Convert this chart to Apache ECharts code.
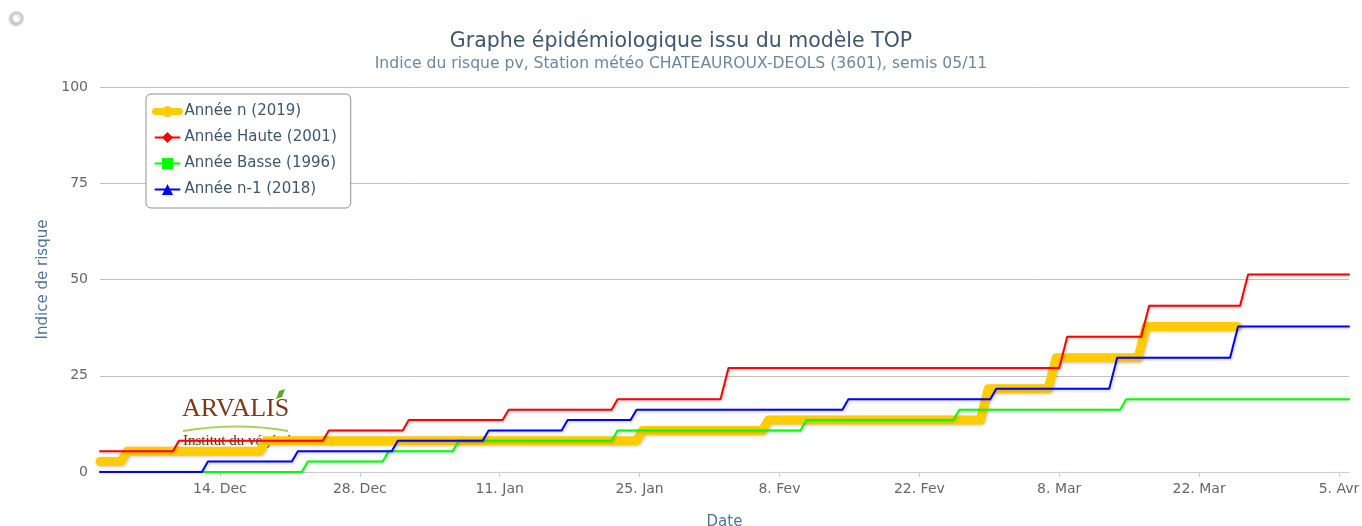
<!DOCTYPE html>
<html>
<head>
<meta charset="utf-8">
<script src="https://cdn.jsdelivr.net/npm/echarts@6/dist/echarts.min.js"></script>
<style>
html,body{margin:0;padding:0;background:#fff;}
#chart{width:1362px;height:526px;}
</style>
</head>
<body>
<div id="chart"></div>
<script>
// x values are day indexes: day 0 = 1 Dec, day 31 = 1 Jan, day 62 = 1 Feb, day 90 = 1 Mar, day 121 = 1 Apr
var tickDays = [13, 27, 41, 55, 69, 83, 97, 111, 125];
var tickLabels = ['14. Dec', '28. Dec', '11. Jan', '25. Jan', '8. Fev', '22. Fev', '8. Mar', '22. Mar', '5. Avr'];
var yTicks = [0, 25, 50, 75, 100];

var seriesNames = ['Année n (2019)', 'Année Haute (2001)', 'Année Basse (1996)', 'Année n-1 (2018)'];

var anneeN2019 = [[1,2.7],[3.1,2.7],[3.7,5.4],[17.0,5.4],[17.6,8.1],[54.7,8.1],[55.3,10.8],[67.3,10.8],[67.9,13.5],[89.1,13.5],[89.9,21.6],[95.9,21.6],[96.7,29.7],[104.9,29.7],[105.7,37.8],[114.8,37.8]];
var anneeHaute2001 = [[1,5.4],[8.3,5.4],[8.9,8.1],[23.3,8.1],[23.9,10.8],[31.3,10.8],[31.9,13.5],[41.3,13.5],[41.9,16.2],[52.2,16.2],[52.8,18.9],[63.1,18.9],[63.9,27.0],[97.0,27.0],[97.8,35.1],[105.2,35.1],[106.0,43.2],[115.1,43.2],[115.9,51.3],[126,51.3]];
var anneeBasse1996 = [[1,0],[21.2,0],[21.8,2.7],[29.3,2.7],[29.9,5.4],[36.3,5.4],[36.9,8.1],[52.2,8.1],[52.8,10.8],[71.1,10.8],[71.7,13.5],[86.4,13.5],[87.0,16.2],[103.1,16.2],[103.7,18.9],[126,18.9]];
var anneeN1_2018 = [[1,0],[11.2,0],[11.8,2.7],[20.2,2.7],[20.8,5.4],[30.2,5.4],[30.8,8.1],[39.3,8.1],[39.9,10.8],[47.2,10.8],[47.8,13.5],[54.1,13.5],[54.7,16.2],[75.3,16.2],[75.9,18.9],[90.1,18.9],[90.7,21.6],[102.0,21.6],[102.8,29.7],[114.1,29.7],[114.9,37.8],[126,37.8]];

var FONT = 'DejaVu Sans';
var shadow = {shadowColor:'rgba(0,0,0,0.22)', shadowBlur:3, shadowOffsetX:1, shadowOffsetY:1};

function lineSeries(name, data, color, width, symbol){
  return {
    name: name, type: 'line', data: data,
    symbol: symbol, symbolSize: 9, showSymbol: false,
    itemStyle: {color: color},
    lineStyle: Object.assign({color: color, width: width, cap: 'round', join: 'round'}, shadow),
    emphasis: {disabled: true},
    animation: false
  };
}

var chart = echarts.init(document.getElementById('chart'), null, {renderer: 'canvas'});
chart.setOption({
  backgroundColor: '#fff',
  animation: false,
  title: [
    {text: 'Graphe épidémiologique issu du modèle TOP', left: 'center', top: 26,
     textStyle: {fontFamily: FONT, fontSize: 20.5, fontWeight: 'normal', color: '#3E576F'}},
    {text: 'Indice du risque pv, Station météo CHATEAUROUX-DEOLS (3601), semis 05/11', left: 'center', top: 51,
     textStyle: {fontFamily: FONT, fontSize: 15.6, fontWeight: 'normal', color: '#6D869F'}}
  ],
  legend: {
    orient: 'vertical', left: 146, top: 94,
    padding: [10, 14, 11, 6],
    backgroundColor: '#fff',
    borderColor: '#909090', borderWidth: 1, borderRadius: 5,
    itemWidth: 24, itemHeight: 14, itemGap: 11,
    textStyle: {fontFamily: FONT, fontSize: 15, color: '#3E576F'},
    data: [
      {name: seriesNames[0], lineStyle: {width: 7}},
      {name: seriesNames[1]},
      {name: seriesNames[2]},
      {name: seriesNames[3]}
    ]
  },
  grid: {left: 100, right: 13, top: 87, bottom: 54, containLabel: false, outerBoundsMode: 'none'},
  xAxis: {
    type: 'value', min: 1, max: 126,
    name: 'Date', nameLocation: 'middle', nameGap: 43,
    nameTextStyle: {fontFamily: FONT, fontSize: 15, color: '#4D759E'},
    axisLine: {show: true, lineStyle: {color: '#C0D0E0', width: 1}},
    axisTick: {show: true, length: 5, customValues: tickDays, lineStyle: {color: '#C0D0E0'}},
    axisLabel: {customValues: tickDays, margin: 10, fontFamily: FONT, fontSize: 14, color: '#666',
      formatter: function(v){ var i = tickDays.indexOf(v); return i >= 0 ? tickLabels[i] : ''; }},
    splitLine: {show: false}
  },
  yAxis: {
    type: 'value', min: 0, max: 100, interval: 25,
    name: 'Indice de risque', nameLocation: 'middle', nameGap: 49,
    nameTextStyle: {fontFamily: FONT, fontSize: 15, color: '#4D759E'},
    axisLine: {show: false}, axisTick: {show: false},
    axisLabel: {margin: 12, fontFamily: FONT, fontSize: 14, color: '#666',
      formatter: function(v){ return yTicks.indexOf(v) >= 0 ? String(v) : ''; }},
    splitLine: {show: true, lineStyle: {color: '#C0C0C0', width: 1}}
  },
  graphic: [
    {type: 'circle', shape: {cx: 17, cy: 18, r: 5.5},
     style: {fill: '#fff', stroke: '#c8c8c8', lineWidth: 2, shadowColor: 'rgba(0,0,0,0.25)', shadowBlur: 3, shadowOffsetX: -1, shadowOffsetY: 1}},
    {type: 'text', left: 182, top: 396, z: 0,
     style: {text: 'ARVALIS', font: '26px "Liberation Serif", serif', fill: '#7B3A1C'}},
    {type: 'polygon', z: 0, shape: {points: [[276,399],[279,391],[285,389],[282,397]]}, style: {fill: '#5FA82E'}},
    {type: 'bezierCurve', z: 0, shape: {x1: 183, y1: 431, x2: 288, y2: 431, cpx1: 220, cpy1: 425, cpx2: 255, cpy2: 425},
     style: {stroke: '#A9D15A', lineWidth: 2, fill: null}},
    {type: 'text', left: 183, top: 434, z: 0,
     style: {text: 'Institut du végétal', font: '15px "Liberation Serif", serif', fill: '#5A3A20'}}
  ],
  series: [
    lineSeries(seriesNames[0], anneeN2019, '#FFCC00', 9, 'circle'),
    lineSeries(seriesNames[1], anneeHaute2001, '#FF0000', 2, 'diamond'),
    lineSeries(seriesNames[2], anneeBasse1996, '#00FF00', 2, 'rect'),
    lineSeries(seriesNames[3], anneeN1_2018, '#0000FF', 2, 'triangle')
  ]
});
</script>
</body>
</html>
